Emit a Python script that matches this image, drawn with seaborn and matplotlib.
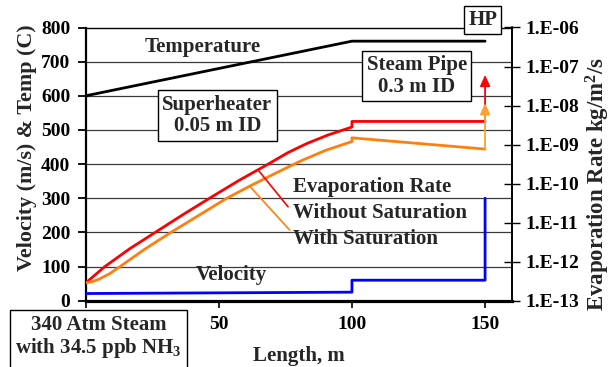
import numpy as np
import pandas as pd
import matplotlib
matplotlib.use("Agg")
import matplotlib.pyplot as plt
from matplotlib.ticker import FixedLocator, FuncFormatter, NullLocator
from matplotlib.patches import Rectangle
import seaborn as sns

# ---------------- data ----------------
temp_x = [0, 100, 150]
temp_y = [600, 760, 760]

vel_x = [0, 100, 100, 150, 150]
vel_y = [21, 25, 60, 60, 300]

red_x = [0, 7.2, 16.5, 26.5, 36.5, 46.5, 57.5, 68.5, 76, 83, 91, 100, 100, 150]
red_y = [2.85e-13, 7.50e-13, 2.14e-12, 5.85e-12, 1.60e-11, 4.22e-11, 1.20e-10,
         3.16e-10, 6.24e-10, 1.06e-09, 1.76e-09, 2.82e-09, 3.92e-09, 3.92e-09]

org_x = [0, 2.5, 5, 9, 12.9, 22, 32, 42.5, 53, 62, 73, 81, 90, 100, 100, 150]
org_y = [2.85e-13, 3.09e-13, 3.56e-13, 4.91e-13, 7.50e-13, 2.05e-12, 5.62e-12,
         1.54e-11, 4.22e-11, 8.89e-11, 2.11e-10, 3.87e-10, 7.08e-10, 1.20e-09,
         1.49e-09, 7.67e-10]

red_arrow_top = 6.1e-08
org_arrow_top = 1.15e-08

x_ticks = [0, 50, 100, 150]
x_tick_labels = ["", "50", "100", "150"]
y_ticks = [0, 100, 200, 300, 400, 500, 600, 700, 800]
r_ticks = [1e-13, 1e-12, 1e-11, 1e-10, 1e-09, 1e-08, 1e-07, 1e-06]

# ---------------- style ----------------
sns.set_theme(style="white")
plt.rcParams["font.family"] = ["Liberation Serif", "DejaVu Serif"]
plt.rcParams["font.weight"] = "bold"
plt.rcParams["mathtext.fontset"] = "custom"
plt.rcParams["mathtext.rm"] = "Liberation Serif:bold"
plt.rcParams["mathtext.it"] = "Liberation Serif:bold"
plt.rcParams["mathtext.bf"] = "Liberation Serif:bold"
plt.rcParams["mathtext.default"] = "rm"

W, H = 616, 367
fig = plt.figure(figsize=(W / 100, H / 100), dpi=100)
L, R, T, B = 85.7, 511.7, 27.5, 300.7
ax = fig.add_axes([L / W, 1 - B / H, (R - L) / W, (B - T) / H])
ax.set_facecolor("white")
ax.set_xlim(0, 160)
ax.set_ylim(0, 800)

ax2 = ax.twinx()
ax2.set_yscale("log")
ax2.set_ylim(1e-13, 1e-6)

# grid lines
for yv in y_ticks[1:-1]:
    ax.axhline(yv, color="#3a3a3a", lw=0.9, zorder=0.5)

# lines
sns.lineplot(x=temp_x, y=temp_y, ax=ax, color="black", lw=2.0,
             estimator=None, sort=False, zorder=3)
sns.lineplot(x=vel_x, y=vel_y, ax=ax, color="#0000ff", lw=2.0,
             estimator=None, sort=False, zorder=3)
sns.lineplot(x=red_x, y=red_y, ax=ax2, color="#ff0000", lw=2.0,
             estimator=None, sort=False, zorder=3)
sns.lineplot(x=org_x, y=org_y, ax=ax2, color="#ff7f0e", lw=2.0,
             estimator=None, sort=False, zorder=3)

# arrows at the end of the steam pipe
ax2.annotate("", xy=(red_x[-1], red_arrow_top), xytext=(red_x[-1], red_y[-1]),
             arrowprops=dict(arrowstyle="-|>,head_length=0.55,head_width=0.25",
                             color="#ff0000", lw=1.3, shrinkA=0, shrinkB=0))
ax2.annotate("", xy=(org_x[-1], org_arrow_top), xytext=(org_x[-1], org_y[-1]),
             arrowprops=dict(arrowstyle="-|>,head_length=0.55,head_width=0.25",
                             color="#ffa030", lw=1.3, shrinkA=0, shrinkB=0))

# leader lines for evaporation labels
rx, ox = 64.7, 61.6
ax2.annotate("", xy=(rx, 10 ** np.interp(rx, red_x[:12], np.log10(red_y[:12]))),
             xytext=(76.0, 275), textcoords=ax.transData,
             arrowprops=dict(arrowstyle="-", color="#ff0000", lw=1.2,
                             shrinkA=0, shrinkB=0))
ax2.annotate("", xy=(ox, 10 ** np.interp(ox, org_x[:14], np.log10(org_y[:14]))),
             xytext=(76.6, 207), textcoords=ax.transData,
             arrowprops=dict(arrowstyle="-", color="#ff7f0e", lw=1.2,
                             shrinkA=0, shrinkB=0))

# axis styling
for a in (ax, ax2):
    a.grid(False)
ax.spines["left"].set_linewidth(1.6)
ax.spines["bottom"].set_linewidth(2.3)
ax.spines["top"].set_linewidth(1.0)
ax2.spines["right"].set_linewidth(1.2)
for s in ax.spines.values():
    s.set_color("black")
for s in ax2.spines.values():
    s.set_color("black")
ax2.spines["left"].set_visible(False)
ax2.spines["bottom"].set_visible(False)
ax2.spines["top"].set_visible(False)

ax.xaxis.set_major_locator(FixedLocator(x_ticks))
ax.set_xticklabels(x_tick_labels)
ax.yaxis.set_major_locator(FixedLocator(y_ticks))
ax.set_yticklabels([str(v) for v in y_ticks])
ax.tick_params(axis="x", direction="out", length=5, width=1.2, labelsize=14, pad=6,
               bottom=True, colors="black")
ax.tick_params(axis="y", direction="out", length=6, width=1.3, labelsize=14, pad=5,
               left=True, colors="black")
ax2.yaxis.set_major_locator(FixedLocator(r_ticks))
ax2.yaxis.set_minor_locator(NullLocator())
ax2.yaxis.set_major_formatter(FuncFormatter(lambda v, p: "1.E%03d" % int(round(np.log10(v)))))
ax2.tick_params(axis="y", direction="inout", length=12, width=1.0, labelsize=14, pad=4,
                right=True, colors="black")
for lab in ax.get_xticklabels() + ax.get_yticklabels() + ax2.get_yticklabels():
    lab.set_fontweight("bold")

# axis labels
fig.text(27 / W, 1 - 148 / H, "Velocity (m/s) & Temp (C)", rotation=90,
         ha="center", va="center", fontsize=15.8, fontweight="bold")
fig.text(598 / W, 1 - 184 / H, "Evaporation Rate kg/m$^2$/s", rotation=90,
         ha="center", va="center", fontsize=16.5, fontweight="bold")
fig.text(299 / W, 1 - 356.5 / H, "Length, m", ha="center", va="center",
         fontsize=15, fontweight="bold")

# annotations
fs = 15
ax.text(44.1, 744, "Temperature", ha="center", va="center", fontsize=fs, fontweight="bold")
ax.text(54.7, 75, "Velocity", ha="center", va="center", fontsize=fs, fontweight="bold")
ax.text(77.8, 332, "Evaporation Rate", ha="left", va="center", fontsize=fs, fontweight="bold")
ax.text(77.8, 256, "Without Saturation", ha="left", va="center", fontsize=fs, fontweight="bold")
ax.text(77.8, 181, "With Saturation", ha="left", va="center", fontsize=fs, fontweight="bold")

box = dict(boxstyle="square,pad=0.22", fc="white", ec="black", lw=1.0)
ax.text(49.5, 543, "Superheater\n0.05 m ID", ha="center", va="center", fontsize=fs,
        fontweight="bold", linespacing=1.1, bbox=box, zorder=5)
ax.text(124.3, 658, "Steam Pipe\n0.3 m ID", ha="center", va="center", fontsize=fs,
        fontweight="bold", linespacing=1.1, bbox=box, zorder=5)
fig.text(482.8 / W, 1 - 20.2 / H, "HP", ha="center", va="center", fontsize=fs,
         fontweight="bold", bbox=dict(boxstyle="square,pad=0.2", fc="white", ec="black", lw=1.0),
         zorder=10)

# bottom-left info box
fig.patches.append(Rectangle((10 / W, 1 - 372 / H), 177 / W, 62 / H, transform=fig.transFigure,
                             fc="white", ec="black", lw=1.0, zorder=10, clip_on=False))
fig.text(98.5 / W, 1 - 325.5 / H, "340 Atm Steam", ha="center", va="center",
         fontsize=fs, fontweight="bold", zorder=11)
fig.text(98.5 / W, 1 - 347.5 / H, "with 34.5 ppb NH$_3$", ha="center", va="center",
         fontsize=fs, fontweight="bold", zorder=11)

fig.savefig("out.png", dpi=100, facecolor="white")
